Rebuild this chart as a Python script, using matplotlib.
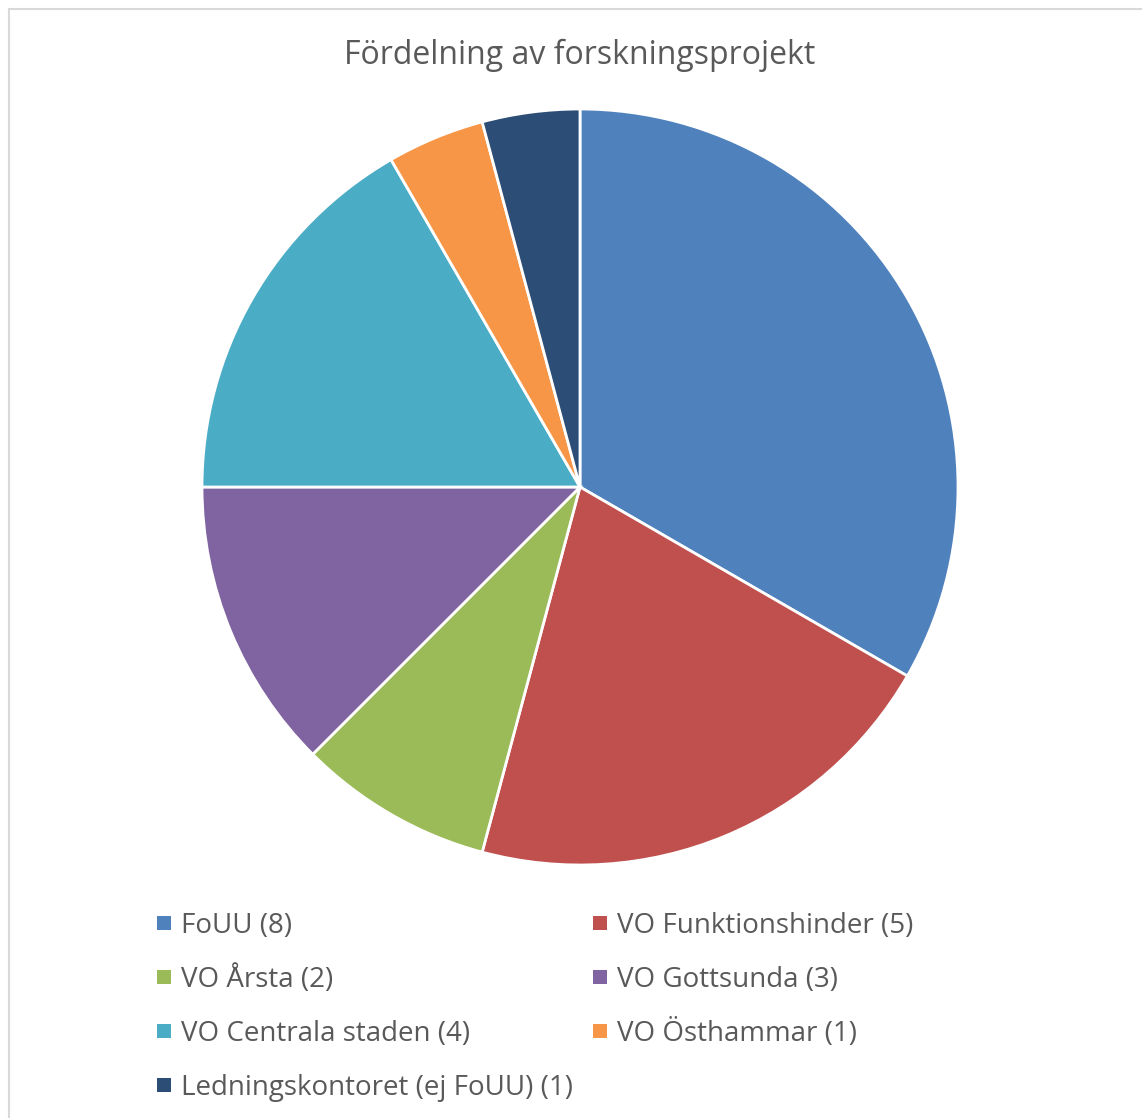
import matplotlib
matplotlib.use("Agg")
import matplotlib.pyplot as plt
from matplotlib.patches import Rectangle

plt.rcParams['font.family'] = ['Open Sans', 'DejaVu Sans']

# data
labels = ["FoUU", "VO Funktionshinder", "VO Årsta", "VO Gottsunda",
          "VO Centrala staden", "VO Östhammar", "Ledningskontoret (ej FoUU)"]
counts = [8, 5, 2, 3, 4, 1, 1]
colors = ["#4F81BD", "#C0504D", "#9BBB59", "#8064A2",
          "#4BACC6", "#F79646", "#2C4D75"]
title = "Fördelning av forskningsprojekt"

W, H = 1142, 1118
fig = plt.figure(figsize=(W / 100, H / 100), dpi=100)

# chart border (light gray, clipped at right/bottom)
fig.add_artist(Rectangle((9 / W, -0.01), 1.05, 1 - 9 / H + 0.01,
                         transform=fig.transFigure, fill=False,
                         edgecolor="#D9D9D9", linewidth=1.5))

# pie
cx, cy, r = 580, 487, 378
ax = fig.add_axes([(cx - r) / W, (H - cy - r) / H, 2 * r / W, 2 * r / H])
ax.pie(counts, colors=colors, startangle=90, counterclock=False,
       radius=1.0, wedgeprops=dict(edgecolor="white", linewidth=2.0))
ax.set_xlim(-1, 1)
ax.set_ylim(-1, 1)
ax.set_aspect("equal")
ax.axis("off")

fig.text(cx / W, 1 - 64 / H, title, ha="center", va="baseline",
         fontsize=23, color="#595959")

# legend, row-major in two columns
col_x = [157, 593]
row_y0, row_dy = 923, 54
sq = 14
for i, (lab, n, c) in enumerate(zip(labels, counts, colors)):
    row, col = i // 2, i % 2
    x = col_x[col]
    y = row_y0 + row * row_dy
    fig.add_artist(Rectangle((x / W, (H - y - sq / 2) / H), sq / W, sq / H,
                             transform=fig.transFigure, facecolor=c,
                             edgecolor="none"))
    fig.text((x + sq + 10) / W, 1 - (y + 10) / H, f"{lab} ({n})", ha="left",
             va="baseline", fontsize=20, color="#595959")

fig.savefig("out.png", dpi=100)
